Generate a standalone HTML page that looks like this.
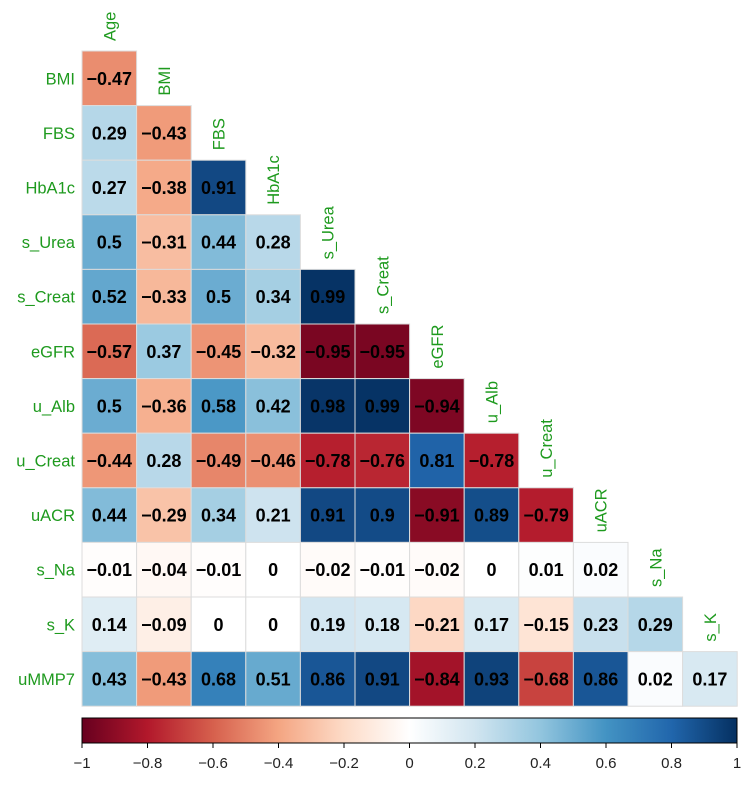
<!DOCTYPE html>
<html><head><meta charset="utf-8"><style>
body{margin:0;background:#fff;width:750px;height:781px;overflow:hidden}
svg{font-family:"Liberation Sans",sans-serif}
</style></head><body>
<svg id="chart" width="750" height="781"></svg>
<script>
const vars=["Age","BMI","FBS","HbA1c","s_Urea","s_Creat","eGFR","u_Alb","u_Creat","uACR","s_Na","s_K","uMMP7"];
const corrRows=[
[-0.47],
[0.29,-0.43],
[0.27,-0.38,0.91],
[0.5,-0.31,0.44,0.28],
[0.52,-0.33,0.5,0.34,0.99],
[-0.57,0.37,-0.45,-0.32,-0.95,-0.95],
[0.5,-0.36,0.58,0.42,0.98,0.99,-0.94],
[-0.44,0.28,-0.49,-0.46,-0.78,-0.76,0.81,-0.78],
[0.44,-0.29,0.34,0.21,0.91,0.9,-0.91,0.89,-0.79],
[-0.01,-0.04,-0.01,0,-0.02,-0.01,-0.02,0,0.01,0.02],
[0.14,-0.09,0,0,0.19,0.18,-0.21,0.17,-0.15,0.23,0.29],
[0.43,-0.43,0.68,0.51,0.86,0.91,-0.84,0.93,-0.68,0.86,0.02,0.17]
];
const ticks=[-1,-0.8,-0.6,-0.4,-0.2,0,0.2,0.4,0.6,0.8,1];
const pal=["#67001F","#B2182B","#D6604D","#F4A582","#FDDBC7","#FFFFFF","#D1E5F0","#92C5DE","#4393C3","#2166AC","#053061"];
const NS="http://www.w3.org/2000/svg";
const svg=document.getElementById('chart');
const X0=82,Y0=51,C=54.6;
function hex(h){return [1,3,5].map(i=>parseInt(h.substr(i,2),16));}
function color(v){const t=(v+1)/2*10;let i=Math.min(9,Math.floor(t));const f=t-i;const a=hex(pal[i]),b=hex(pal[i+1]);return `rgb(${a.map((x,k)=>Math.round(x+(b[k]-x)*f)).join(',')})`;}
function el(tag,attrs,txt){const e=document.createElementNS(NS,tag);for(const k in attrs)e.setAttribute(k,attrs[k]);if(txt!==undefined)e.textContent=txt;svg.appendChild(e);return e;}
function fmt(v){return v<0?'\u2212'+String(-v):String(v);}
corrRows.forEach((row,r)=>{
  const y=Y0+r*C;
  const lab=el('text',{x:X0-7,y:y+C/2+6,'text-anchor':'end','font-size':16.5,fill:'#1E9A1E'},vars[r+1]);
  
  
  row.forEach((v,c)=>{
    const x=X0+c*C;
    const rc=el('rect',{x:x,y:y,width:C,height:C,fill:color(v),stroke:'#dcdcdc','stroke-width':1});
    
    
    const t=el('text',{x:x+C/2,y:y+C/2+6.5,'text-anchor':'middle','font-size':18,'font-weight':'bold',fill:'#000'},fmt(v));
    
    
  });
});
for(let c=0;c<12;c++){
  const cx=X0+c*C+C/2+6, cy=Y0+c*C-10;
  const t=el('text',{x:cx,y:cy,'font-size':16.5,fill:'#1E9A1E',transform:`rotate(-90 ${cx} ${cy})`},vars[c]);
  
  
}
const defs=el('defs',{});
const g=document.createElementNS(NS,'linearGradient');g.setAttribute('id','cg');defs.appendChild(g);
pal.forEach((p,i)=>{const s=document.createElementNS(NS,'stop');s.setAttribute('offset',i/10);s.setAttribute('stop-color',p);g.appendChild(s);});
const CB0=82,CB1=737,CBy=718,CBh=25;
const cb=el('rect',{x:CB0,y:CBy,width:CB1-CB0,height:CBh,fill:'url(#cg)',stroke:'#000','stroke-width':1});


ticks.forEach(v=>{
  const x=CB0+(v+1)/2*(CB1-CB0);
  el('line',{x1:x,x2:x,y1:CBy+CBh,y2:CBy+CBh+5,stroke:'#000'});
  const t=el('text',{x:x,y:768,'text-anchor':'middle','font-size':15,fill:'#222'},v<0?'\u2212'+(-v):String(v));
  
  
});
</script>
</body></html>
